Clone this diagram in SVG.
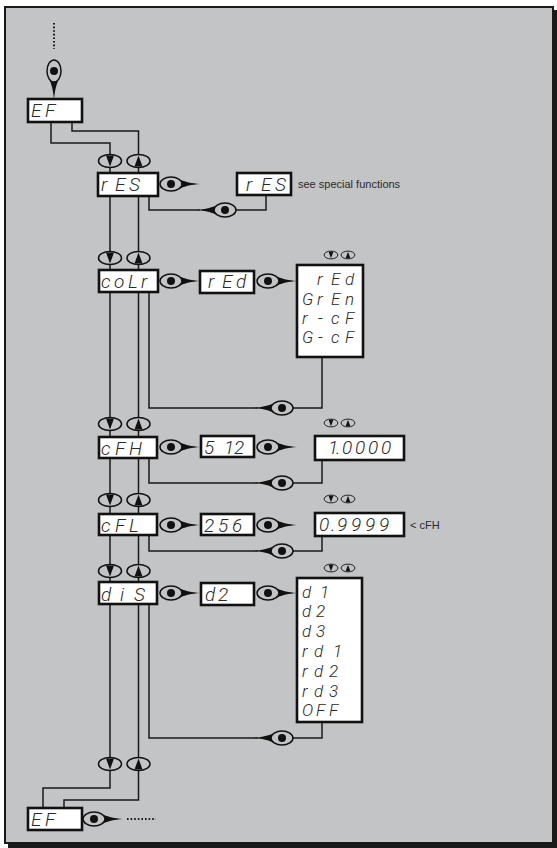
<svg xmlns="http://www.w3.org/2000/svg" xmlns:xlink="http://www.w3.org/1999/xlink" width="557" height="848" viewBox="0 0 557 848">
<style>
.ln{fill:none;stroke:#1a1a1a;stroke-width:1.5}
.dot{fill:none;stroke:#1a1a1a;stroke-width:2;stroke-dasharray:1.6 2}
.box{fill:#fff;stroke:#111;stroke-width:2.6}
.seg{font-family:Roboto,"DejaVu Sans",sans-serif;font-weight:300;font-style:italic;font-size:19px;fill:#2a2a2a}
.sl{font-size:17px}
.lbl{font-family:"Liberation Sans",Arial,sans-serif;font-size:11px;fill:#2a2a2a}
.bt{fill:#c3c4c6;stroke:#111;stroke-width:1.5}
</style>
<defs>
<g id="eye">
<path d="M10,-4 C15,-2 20,-0.8 29,0 C20,0.8 15,2 10,4 Z" fill="#111"/>
<ellipse cx="0" cy="0" rx="11" ry="7" fill="#c3c4c6" stroke="#111" stroke-width="1.5"/>
<circle cx="0" cy="0" r="4" fill="#111"/>
</g>
<g id="bdn">
<ellipse cx="0" cy="0" rx="11.5" ry="6.5" class="bt"/>
<polygon points="-4,-5.5 4,-5.5 0,5.5" fill="#111"/>
</g>
<g id="bup">
<ellipse cx="0" cy="0" rx="11.5" ry="6.5" class="bt"/>
<polygon points="0,-5.5 -4,5.5 4,5.5" fill="#111"/>
</g>
</defs>

<rect x="0" y="0" width="557" height="848" fill="#fff"/>
<rect x="8" y="10" width="549" height="838" fill="#1a1a1a"/>
<rect x="5" y="7" width="548" height="836" fill="#c3c4c6" stroke="#1a1a1a" stroke-width="2"/>

<g id="connectors">
<line class="dot" x1="54" y1="23" x2="54" y2="49"/>
<polyline class="ln" points="51,122 51,143 110,143 110,764"/>
<polyline class="ln" points="72,122 72,131 138.5,131 138.5,764"/>
<polyline class="ln" points="149,196 149,210 200,210"/>
<polyline class="ln" points="236,210 266,210 266,195"/>
<polyline class="ln" points="149,292 149,408 258,408"/>
<polyline class="ln" points="293,408 322,408 322,357"/>
<polyline class="ln" points="149,458 149,483 258,483"/>
<polyline class="ln" points="293,483 322,483 322,460"/>
<polyline class="ln" points="149,535 149,551 258,551"/>
<polyline class="ln" points="293,551 322,551 322,536"/>
<polyline class="ln" points="149,604 149,738 258,738"/>
<polyline class="ln" points="293,738 322,738 322,722"/>
<polyline class="ln" points="110,764 110,788 43,788 43,808"/>
<polyline class="ln" points="138.5,764 138.5,800 64,800 64,808"/>
<line class="dot" x1="127" y1="819" x2="156" y2="819"/>
<use xlink:href="#eye" transform="translate(54,71) rotate(90)"/>
<use xlink:href="#eye" transform="translate(171,184)"/>
<use xlink:href="#eye" transform="translate(225,210) scale(-1,1)"/>
<use xlink:href="#eye" transform="translate(171,281)"/>
<use xlink:href="#eye" transform="translate(268,281)"/>
<use xlink:href="#eye" transform="translate(282,408) scale(-1,1)"/>
<use xlink:href="#eye" transform="translate(171,447)"/>
<use xlink:href="#eye" transform="translate(268,447)"/>
<use xlink:href="#eye" transform="translate(282,483) scale(-1,1)"/>
<use xlink:href="#eye" transform="translate(171,525)"/>
<use xlink:href="#eye" transform="translate(268,525)"/>
<use xlink:href="#eye" transform="translate(282,551) scale(-1,1)"/>
<use xlink:href="#eye" transform="translate(171,593)"/>
<use xlink:href="#eye" transform="translate(268,593)"/>
<use xlink:href="#eye" transform="translate(282,738) scale(-1,1)"/>
<use xlink:href="#eye" transform="translate(94,819)"/>
</g>

<g id="buttons">
<use xlink:href="#bdn" transform="translate(110,161)"/>
<use xlink:href="#bup" transform="translate(138.5,161)"/>
<use xlink:href="#bdn" transform="translate(110,258)"/>
<use xlink:href="#bup" transform="translate(138.5,258)"/>
<use xlink:href="#bdn" transform="translate(110,424)"/>
<use xlink:href="#bup" transform="translate(138.5,424)"/>
<use xlink:href="#bdn" transform="translate(110,500)"/>
<use xlink:href="#bup" transform="translate(138.5,500)"/>
<use xlink:href="#bdn" transform="translate(110,571)"/>
<use xlink:href="#bup" transform="translate(138.5,571)"/>
<use xlink:href="#bdn" transform="translate(110,764)"/>
<use xlink:href="#bup" transform="translate(138.5,764)"/>
<use xlink:href="#bdn" transform="translate(331,255) scale(0.6)"/>
<use xlink:href="#bup" transform="translate(348,255) scale(0.6)"/>
<use xlink:href="#bdn" transform="translate(331,423) scale(0.6)"/>
<use xlink:href="#bup" transform="translate(348,423) scale(0.6)"/>
<use xlink:href="#bdn" transform="translate(331,499) scale(0.6)"/>
<use xlink:href="#bup" transform="translate(348,499) scale(0.6)"/>
<use xlink:href="#bdn" transform="translate(331,568) scale(0.6)"/>
<use xlink:href="#bup" transform="translate(348,568) scale(0.6)"/>
</g>

<g id="node-EF-top">
<rect class="box" x="28" y="99" width="54" height="23"/>
<text class="seg" x="31 45" y="117">EF</text>
</g>
<g id="node-rES">
<rect class="box" x="98" y="173" width="60" height="23"/>
<text class="seg" x="101 115 129" y="191">rES</text>
</g>
<g id="node-rES-special">
<rect class="box" x="237" y="173" width="54" height="22"/>
<text class="seg" x="246 261 275" y="191">rES</text>
<text class="lbl" x="298" y="188">see special functions</text>
</g>
<g id="node-colr">
<rect class="box" x="99" y="270" width="59" height="22"/>
<text class="seg" x="101 114 128 141" y="288">coLr</text>
</g>
<g id="node-rEd">
<rect class="box" x="200" y="271" width="54" height="22"/>
<text class="seg" x="208 222 236" y="288">rEd</text>
</g>
<g id="node-colr-list">
<rect class="box" x="297" y="265" width="66" height="92"/>
<text class="seg sl" x="317 331 345" y="285">rEd</text>
<text class="seg sl" x="302 317 331 345" y="305">GrEn</text>
<text class="seg sl" x="302 318 331 345" y="324">r-cF</text>
<text class="seg sl" x="302 318 331 345" y="343">G-cF</text>
</g>
<g id="node-cFH">
<rect class="box" x="99" y="437" width="58" height="21"/>
<text class="seg" x="101 115 129" y="455">cFH</text>
</g>
<g id="node-512">
<rect class="box" x="201" y="436" width="53" height="21"/>
<text class="seg" x="204 224 234" y="454">512</text>
</g>
<g id="node-1.0000">
<rect class="box" x="315" y="436" width="89" height="24"/>
<text class="seg" x="328 336 342 355 368 381" y="454">1.0000</text>
</g>
<g id="node-cFL">
<rect class="box" x="99" y="514" width="58" height="21"/>
<text class="seg" x="101 115 129" y="532">cFL</text>
</g>
<g id="node-256">
<rect class="box" x="201" y="514" width="53" height="21"/>
<text class="seg" x="204 218 232" y="532">256</text>
</g>
<g id="node-0.9999">
<rect class="box" x="315" y="513" width="89" height="23"/>
<text class="seg" x="319 331 337 351 365 379" y="531">0.9999</text>
<text class="lbl" x="410" y="529">&lt; cFH</text>
</g>
<g id="node-diS">
<rect class="box" x="99" y="582" width="58" height="22"/>
<text class="seg" x="101 120 134" y="601">diS</text>
</g>
<g id="node-d2">
<rect class="box" x="201" y="583" width="53" height="22"/>
<text class="seg" x="205 218" y="601">d2</text>
</g>
<g id="node-diS-list">
<rect class="box" x="297" y="578" width="65" height="144"/>
<text class="seg sl" x="302 320" y="598">d1</text>
<text class="seg sl" x="302 316" y="617">d2</text>
<text class="seg sl" x="302 316" y="637">d3</text>
<text class="seg sl" x="302 314 333" y="657">rd1</text>
<text class="seg sl" x="302 314 329" y="677">rd2</text>
<text class="seg sl" x="302 314 329" y="697">rd3</text>
<text class="seg sl" x="302 316 329" y="716">OFF</text>
</g>
<g id="node-EF-bottom">
<rect class="box" x="28" y="808" width="54" height="22"/>
<text class="seg" x="31 45" y="826">EF</text>
</g>
</svg>
